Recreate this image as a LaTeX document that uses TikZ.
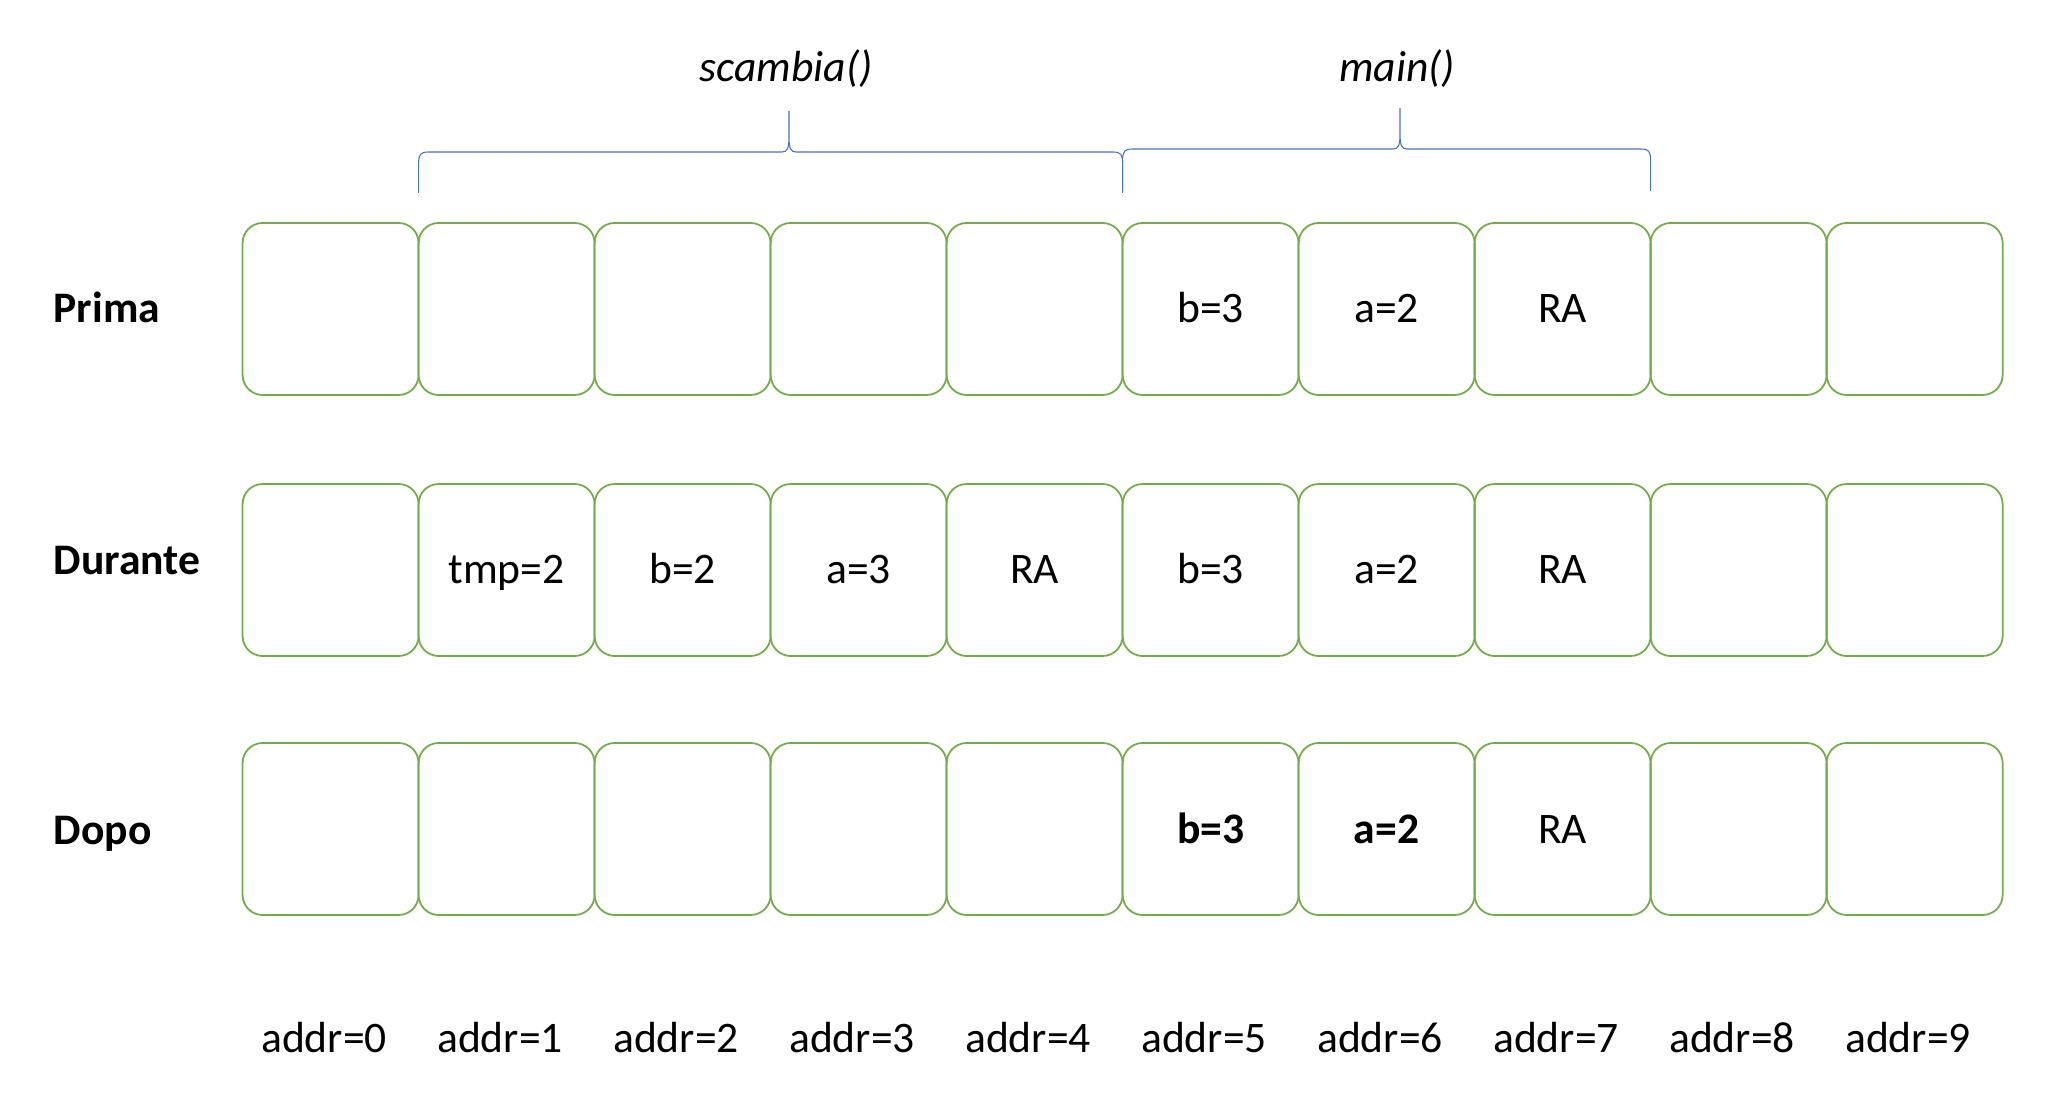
\documentclass[tikz,border=0pt]{standalone}
\usepackage{fontspec}
\setmainfont{Carlito}
\usetikzlibrary{calc,positioning}
\definecolor{cellgreen}{RGB}{112,173,71}
\definecolor{braceblue}{RGB}{68,114,196}
% brace over a stack frame: left x, tip x, right x, bottom y, bar y, tip y
\newcommand{\framebrace}[6]{%
  \draw[bracestyle] (#1,#4) -- (#1,#5-0.12) .. controls (#1,#5-0.02) and (#1+0.02,#5) .. (#1+0.1,#5)
    -- (#2-0.07,#5) .. controls (#2-0.02,#5) and (#2,#5+0.03) .. (#2,#5+0.15) -- (#2,#6)
    (#2,#5+0.15) .. controls (#2,#5+0.03) and (#2+0.02,#5) .. (#2+0.07,#5)
    -- (#3-0.1,#5) .. controls (#3-0.02,#5) and (#3,#5-0.02) .. (#3,#5-0.12) -- (#3,#4);}

\begin{document}
\begin{tikzpicture}[font=\fontsize{12.4}{15}\selectfont,
  cell/.style={draw=cellgreen, line width=0.5pt, rounded corners=0.2cm, rectangle,
    minimum width=1.76cm, minimum height=1.72cm, inner sep=0pt, outer sep=0pt,
    text height=0.36cm, text depth=0.08cm},
  rowlabel/.style={anchor=base west, inner sep=0pt, font=\fontsize{12.4}{15}\selectfont\bfseries},
  addrlabel/.style={anchor=base, inner sep=0pt},
  funclabel/.style={anchor=base, inner sep=0pt, font=\fontsize{12.4}{15}\selectfont\itshape},
  bracestyle/.style={draw=braceblue, line width=0.3pt}]
\useasboundingbox (0,0) rectangle (20.56,-11.18);

% Stack before the call
\node[rowlabel] (prima) at (0.53,-3.23) {Prima};
\foreach \i/\t in {0/{},1/{},2/{},3/{},4/{},5/{b=3},6/{a=2},7/{RA},8/{},9/{}}
  \node[cell] (p\i) at ({3.306+1.76*\i},-3.09) {\t};

% Stack during scambia()
\node[rowlabel] (durante) at (0.53,-5.75) {Durante};
\foreach \i/\t in {0/{},1/{tmp=2},2/{b=2},3/{a=3},4/{RA},5/{b=3},6/{a=2},7/{RA},8/{},9/{}}
  \node[cell] (d\i) at ({3.306+1.76*\i},-5.70) {\t};

% Stack after the return
\node[rowlabel] (dopo) at (0.53,-8.44) {Dopo};
\foreach \i/\t in {0/{},1/{},2/{},3/{},4/{},5/{\textbf{b=3}},6/{\textbf{a=2}},7/{RA},8/{},9/{}}
  \node[cell] (o\i) at ({3.306+1.76*\i},-8.29) {\t};

% Addresses
\foreach \i in {0,...,9}
  \node[addrlabel] (addr\i) at ({3.24+1.76*\i},-10.52) {addr=\i};

% Frames
\node[funclabel] (scambia) at (7.86,-0.82) {scambia()};
\node[funclabel] (main) at (13.97,-0.82) {main()};
\framebrace{4.186}{7.89}{11.226}{-1.93}{-1.52}{-1.11}
\framebrace{11.226}{14.00}{16.506}{-1.91}{-1.49}{-1.08}
\end{tikzpicture}
\end{document}
